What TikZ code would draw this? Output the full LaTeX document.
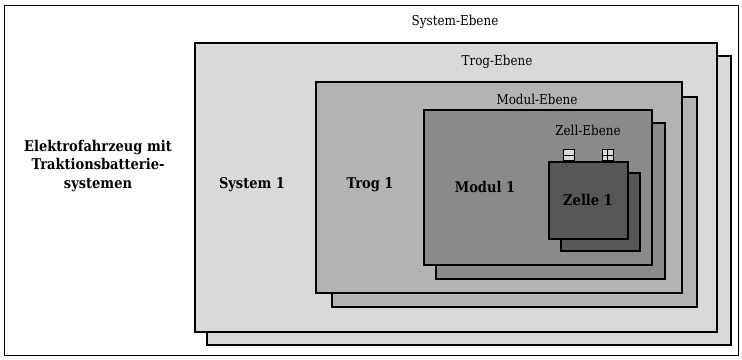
\documentclass[tikz,border=0pt]{standalone}
\usepackage{fontspec}
\setmainfont{DejaVu Serif}[FakeStretch=0.88]
\begin{document}
\begin{tikzpicture}[x=1pt,y=-1pt,
  box/.style={draw=black, line width=1.7pt, inner sep=0pt, anchor=north west},
  lbl/.style={font=\fontsize{13.6}{16}\selectfont, inner sep=0pt},
  blbl/.style={font=\fontsize{14.8}{17}\selectfont\bfseries, inner sep=0pt},
  term/.style={draw=black, line width=1pt, fill=sysgray, inner sep=0pt, minimum width=11pt, minimum height=11pt, anchor=north west}]
\definecolor{sysgray}{HTML}{D9D9D9}
\definecolor{troggray}{HTML}{B3B3B3}
\definecolor{modgray}{HTML}{8A8A8A}
\definecolor{zellgray}{HTML}{575757}
\useasboundingbox (0,0) rectangle (742,359);
% outer frame
\node[draw=black, line width=1.3pt, inner sep=0pt, anchor=north west, minimum width=734pt, minimum height=350pt] (frame) at (4,5) {};
% system
\node[box, fill=sysgray, minimum width=524pt, minimum height=289pt] (sysB) at (206,55) {};
\node[box, fill=sysgray, minimum width=522pt, minimum height=289pt] (sysF) at (194,42) {};
% trog
\node[box, fill=troggray, minimum width=365pt, minimum height=210pt] (trogB) at (331,96) {};
\node[box, fill=troggray, minimum width=366pt, minimum height=211pt] (trogF) at (315,81) {};
% modul
\node[box, fill=modgray, minimum width=229pt, minimum height=156pt] (modB) at (435,122) {};
\node[box, fill=modgray, minimum width=228pt, minimum height=155pt] (modF) at (423,109) {};
% zelle
\node[box, fill=zellgray, minimum width=79pt, minimum height=78pt] (zelB) at (560,172) {};
\node[box, fill=zellgray, minimum width=79pt, minimum height=77pt] (zelF) at (548,161) {};
% terminals
\node[term] (minus) at (563,149) {};
\draw[line width=1pt] (minus.west) -- (minus.east);
\node[term] (plus) at (601.5,149) {};
\draw[line width=1pt] (plus.west) -- (plus.east);
\draw[line width=1pt] (plus.north) -- (plus.south);
% labels
\node[lbl] (lsys) at (455,22) {System-Ebene};
\node[lbl] (ltrog) at (497,62) {Trog-Ebene};
\node[lbl] (lmod) at (537,99) {Modul-Ebene};
\node[lbl] (lzel) at (588,130) {Zell-Ebene};
\node[blbl] (s1) at (252,185) {System 1};
\node[blbl] (t1) at (370,185) {Trog 1};
\node[blbl] (m1) at (485,187) {Modul 1};
\node[blbl] (z1) at (588,200) {Zelle 1};
\node[blbl, align=center, font=\fontsize{14.8}{18.5}\selectfont\bfseries] (ev) at (98,166) {Elektrofahrzeug mit\\Traktionsbatterie-\\systemen};
\end{tikzpicture}
\end{document}
